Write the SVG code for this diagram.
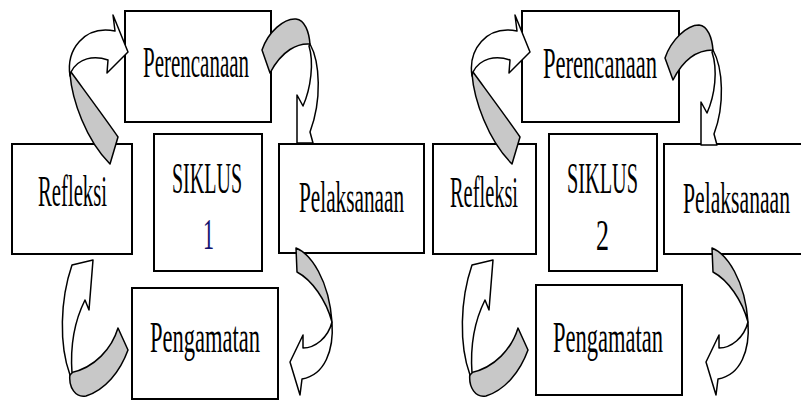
<svg xmlns="http://www.w3.org/2000/svg" width="801" height="400" viewBox="0 0 801 400">
<style>
.box{fill:#fff;stroke:#000;stroke-width:2}
.t{font-family:"Liberation Serif","Times New Roman",serif;font-size:44px;fill:#000}
.w{fill:#fff;stroke:#000;stroke-width:1.5;stroke-linejoin:round}
.g{fill:#c8c8c8;stroke:#000;stroke-width:1.5;stroke-linejoin:round}
</style>
<rect width="801" height="400" fill="#fff"/>
<g id="siklus1">
<g id="perencanaan1"><rect class="box" x="125" y="11" width="146" height="111"/><text class="t" transform="translate(143,77) scale(0.5,1)" textLength="212" lengthAdjust="spacingAndGlyphs">Perencanaan</text></g>
<g id="refleksi1"><rect class="box" x="12" y="144" width="120" height="110"/><text class="t" transform="translate(38,206) scale(0.5,1)" textLength="138" lengthAdjust="spacingAndGlyphs">Refleksi</text></g>
<g id="siklus-label1"><rect class="box" x="154" y="134" width="108" height="137"/><text class="t" transform="translate(172,193) scale(0.5,1)" textLength="140" lengthAdjust="spacingAndGlyphs">SIKLUS</text><text class="t" transform="translate(203,249) scale(0.5,1)" textLength="22" lengthAdjust="spacingAndGlyphs" style="fill:#14146e">1</text></g>
<g id="pelaksanaan1"><rect class="box" x="279" y="144" width="145" height="109"/><text class="t" transform="translate(299,212) scale(0.5,1)" textLength="210" lengthAdjust="spacingAndGlyphs">Pelaksanaan</text></g>
<g id="pengamatan1"><rect class="box" x="132" y="288" width="146" height="111"/><text class="t" transform="translate(150,352) scale(0.5,1)" textLength="220" lengthAdjust="spacingAndGlyphs">Pengamatan</text></g>
</g>
<g id="siklus2">
<g id="perencanaan2"><rect class="box" x="522" y="11" width="157" height="111"/><text class="t" transform="translate(543,78) scale(0.5,1)" textLength="228" lengthAdjust="spacingAndGlyphs">Perencanaan</text></g>
<g id="refleksi2"><rect class="box" x="433" y="144" width="103" height="110"/><text class="t" transform="translate(450,207) scale(0.5,1)" textLength="136" lengthAdjust="spacingAndGlyphs">Refleksi</text></g>
<g id="siklus-label2"><rect class="box" x="549" y="134" width="108" height="137"/><text class="t" transform="translate(567,193) scale(0.5,1)" textLength="142" lengthAdjust="spacingAndGlyphs">SIKLUS</text><text class="t" transform="translate(596,250) scale(0.5,1)" textLength="26" lengthAdjust="spacingAndGlyphs">2</text></g>
<g id="pelaksanaan2"><rect class="box" x="664" y="144" width="140" height="110"/><text class="t" transform="translate(683,213) scale(0.5,1)" textLength="214" lengthAdjust="spacingAndGlyphs">Pelaksanaan</text></g>
<g id="pengamatan2"><rect class="box" x="536" y="285" width="146" height="110"/><text class="t" transform="translate(553,352) scale(0.5,1)" textLength="220" lengthAdjust="spacingAndGlyphs">Pengamatan</text></g>
</g>
<g id="connectors">
<defs>
<g id="arrowA">
<path class="g" d="M 70,74 C 72,100 86,140 110,164 L 118,137 C 110,125 90,98 71,72 Z"/>
<path class="w" d="M 70,76 C 66,50 84,25 115,31 L 113,15 L 128,52 L 107,73 L 108,60 C 94,55 78,58 71,72 Z"/>
</g>
<g id="arrowC">
<path class="g" d="M 296,248 C 311,254 329,280 332,322 C 326,300 312,280 297,272 Z"/>
<path class="w" d="M 332,322 C 334,350 325,375 302,379 L 300,395 L 290,362 L 303,335 L 303,348 C 315,348 328,338 332,322 Z"/>
</g>
<g id="arrowD">
<path class="g" d="M 118,328 C 112,348 95,368 70,373 C 68,388 76,398 86,396 C 105,390 120,372 128,350 Z"/>
<path class="w" d="M 70,375 C 59,345 60,300 72,265 L 93,260 L 89,310 L 85,300 C 75,320 70,345 72,373 Z"/>
</g>
</defs>
<use href="#arrowA"/>
<path class="g" d="M 262,50 C 268,32 284,18 296,19 C 305,20 309,32 310,44 C 298,43 282,50 270,73 Z"/>
<path class="w" d="M 310,44 C 320,62 322,100 310,132 L 313,143 L 297,143 L 297,95 L 303,106 C 311,88 314,62 309,46 Z"/>
<use href="#arrowC"/>
<use href="#arrowD"/>
<use href="#arrowA" x="402"/>
<path class="g" d="M 665,58 C 671,40 687,25 699,25 C 708,26 712,38 713,50 C 701,50 685,56 673,80 Z"/>
<path class="w" d="M 713,50 C 723,68 725,105 714,134 L 717,145 L 701,145 L 701,102 L 707,113 C 715,95 718,70 712,52 Z"/>
<use href="#arrowC" x="416"/>
<use href="#arrowD" x="400"/>
</g>
</svg>
